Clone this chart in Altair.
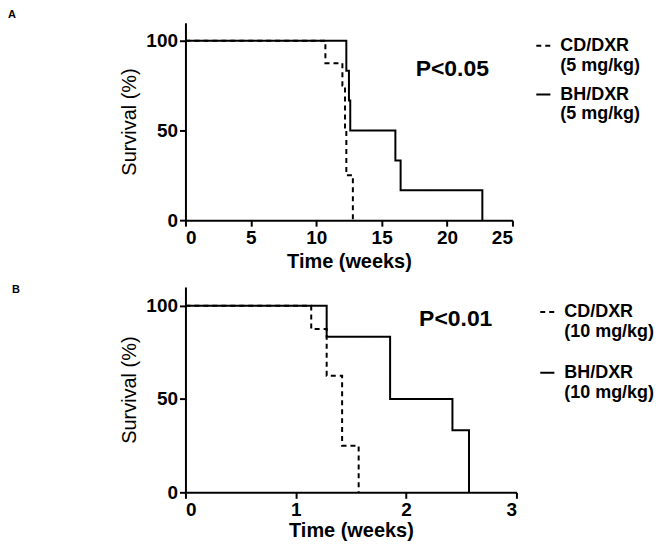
import altair as alt
import pandas as pd

# ---- Panel A (5 mg/kg) ----
a_cd_time = [0, 10.7, 12.0, 12.2, 12.3, 12.8]
a_cd_surv = [100, 87.5, 75, 50, 25, 0]
a_bh_time = [0, 12.3, 12.5, 12.6, 16.05, 16.45, 22.7]
a_bh_surv = [100, 83.3, 66.7, 50, 33.3, 16.7, 0]
a_labels = ["CD/DXR|(5 mg/kg)", "BH/DXR|(5 mg/kg)"]
a_xticks = [0, 5, 10, 15, 20, 25]
a_p_text = ["P<0.05"]
a_p_x = [20.4]
a_p_y = [84]

# ---- Panel B (10 mg/kg) ----
b_cd_time = [0, 1.14, 1.28, 1.42, 1.57]
b_cd_surv = [100, 87.5, 62.5, 25, 0]
b_bh_time = [0, 1.28, 1.855, 2.42, 2.57]
b_bh_surv = [100, 83.3, 50, 33.3, 0]
b_labels = ["CD/DXR|(10 mg/kg)", "BH/DXR|(10 mg/kg)"]
b_xticks = [0, 1, 2, 3]
b_p_text = ["P<0.01"]
b_p_x = [2.45]
b_p_y = [93]

y_ticks = [0, 50, 100]
FONT = "Liberation Sans"


def panel(cd_t, cd_s, bh_t, bh_s, labels, xmax, xticks, ptext, px, py,
          letter, w, h, dx, title_offset, xtitle_pad, legend_row_pad,
          legend_y):
    df = pd.concat([
        pd.DataFrame({"time": cd_t, "surv": cd_s, "group": labels[0]}),
        pd.DataFrame({"time": bh_t, "surv": bh_s, "group": labels[1]}),
    ])
    pdf = pd.DataFrame({"t": ptext, "x": px, "y": py})
    lines = alt.Chart(df).mark_line(
        interpolate="step-after", strokeWidth=2, color="black"
    ).encode(
        x=alt.X("time:Q", scale=alt.Scale(domain=[0, xmax], nice=False, zero=True),
                axis=alt.Axis(values=xticks, title="Time (weeks)", format="d",
                              titlePadding=xtitle_pad)),
        y=alt.Y("surv:Q", scale=alt.Scale(domain=[0, 110], nice=False),
                axis=alt.Axis(values=y_ticks, title="Survival (%)")),
        strokeDash=alt.StrokeDash(
            "group:N",
            scale=alt.Scale(domain=labels, range=[[5, 4], [1, 0]]),
            legend=alt.Legend(title=None, labelExpr="split(datum.value, '|')",
                              rowPadding=legend_row_pad, orient="none",
                              legendX=w + 22, legendY=legend_y),
        ),
    )
    ptxt = alt.Chart(pdf).mark_text(
        font=FONT, fontSize=23, fontWeight="bold", color="black"
    ).encode(x="x:Q", y="y:Q", text="t:N")
    return alt.layer(lines, ptxt).properties(
        width=w, height=h,
        title=alt.TitleParams(letter, anchor="start", frame="group", dx=dx,
                              fontSize=11, fontWeight="bold", font=FONT,
                              offset=title_offset, color="black"),
    )


pa = panel(a_cd_time, a_cd_surv, a_bh_time, a_bh_surv, a_labels, 25, a_xticks,
           a_p_text, a_p_x, a_p_y, "A", 328, 198, -178, 3, 4, 11, 14)
pb = panel(b_cd_time, b_cd_surv, b_bh_time, b_bh_surv, b_labels, 3, b_xticks,
           b_p_text, b_p_x, b_p_y, "B", 332, 206, -174, -8, 1, 23, 16)

chart = alt.vconcat(pa, pb, spacing=13).resolve_scale(
    strokeDash="independent", x="independent", y="independent"
).properties(padding=0).configure_view(stroke=None).configure_axis(
    domainColor="black", domainWidth=2, tickColor="black", tickWidth=2,
    tickSize=6, grid=False, labelFont=FONT, labelFontSize=19,
    labelFontWeight="bold", labelColor="black", labelPadding=2,
    titleFont=FONT, titleFontSize=20, titleColor="black",
).configure_axisX(titleFontWeight="bold").configure_axisY(
    titleFontWeight="normal", titlePadding=6
).configure_legend(
    symbolType="stroke", symbolSize=200, symbolStrokeWidth=2,
    symbolStrokeColor="black", labelFont=FONT, labelFontSize=18,
    labelFontWeight="bold", labelColor="black", labelLimit=300,
    labelOffset=8, padding=0,
)

chart.save("out.html", embed_options={"renderer": "svg", "actions": False})
